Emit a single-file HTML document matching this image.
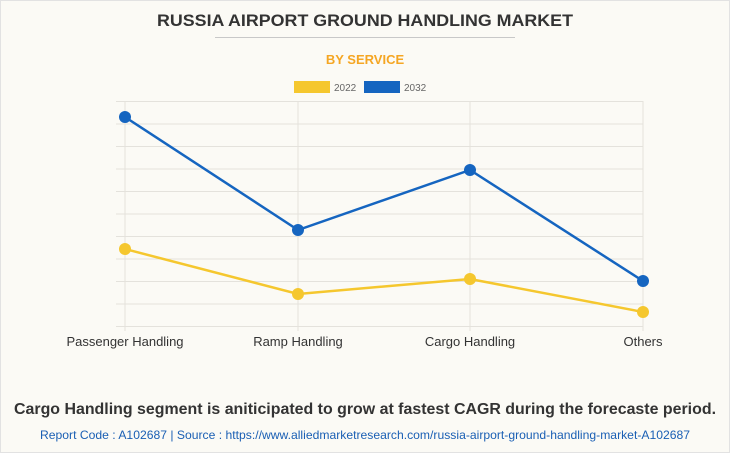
<!DOCTYPE html>
<html><head><meta charset="utf-8"><style>
html,body{margin:0;padding:0;}
body{width:730px;height:453px;background:#fbfaf5;overflow:hidden;font-family:"Liberation Sans",sans-serif;}
.wrap{position:absolute;left:0;top:0;width:728px;height:451px;border:1px solid #e2e2e2;}
</style></head><body>
<div class="wrap"></div>
<svg width="730" height="453" style="position:absolute;left:0;top:0" font-family="Liberation Sans, sans-serif">
<text x="157" y="26" textLength="416" lengthAdjust="spacingAndGlyphs" font-size="17" font-weight="bold" fill="#333">RUSSIA AIRPORT GROUND HANDLING MARKET</text>
<line x1="215" y1="37.5" x2="515" y2="37.5" stroke="#c8c8c8" stroke-width="1"/>
<text x="365" y="64" text-anchor="middle" font-size="13" font-weight="bold" fill="#f5a623">BY SERVICE</text>
<rect x="294" y="81" width="36" height="12" fill="#f5c72e"/>
<text x="334" y="91" font-size="10" fill="#666">2022</text>
<rect x="364" y="81" width="36" height="12" fill="#1565c0"/>
<text x="404" y="91" font-size="10" fill="#666">2032</text>
<g stroke="#e4e2dc" stroke-width="1">
<line x1="116" y1="101.5" x2="643" y2="101.5"/>
<line x1="116" y1="124" x2="643" y2="124"/>
<line x1="116" y1="146.5" x2="643" y2="146.5"/>
<line x1="116" y1="169" x2="643" y2="169"/>
<line x1="116" y1="191.5" x2="643" y2="191.5"/>
<line x1="116" y1="214" x2="643" y2="214"/>
<line x1="116" y1="236.5" x2="643" y2="236.5"/>
<line x1="116" y1="259" x2="643" y2="259"/>
<line x1="116" y1="281.5" x2="643" y2="281.5"/>
<line x1="116" y1="304" x2="643" y2="304"/>
<line x1="116" y1="326.5" x2="643" y2="326.5"/>
<line x1="125" y1="101" x2="125" y2="331"/>
<line x1="298" y1="101" x2="298" y2="331"/>
<line x1="470" y1="101" x2="470" y2="331"/>
<line x1="643" y1="101" x2="643" y2="331"/>
</g>
<polyline points="125,249 298,294 470,279 643,312" fill="none" stroke="#f5c72e" stroke-width="2.5"/>
<polyline points="125,117 298,230 470,170 643,281" fill="none" stroke="#1565c0" stroke-width="2.5"/>
<g fill="#f5c72e"><circle cx="125" cy="249" r="6"/><circle cx="298" cy="294" r="6"/><circle cx="470" cy="279" r="6"/><circle cx="643" cy="312" r="6"/></g>
<g fill="#1565c0"><circle cx="125" cy="117" r="6"/><circle cx="298" cy="230" r="6"/><circle cx="470" cy="170" r="6"/><circle cx="643" cy="281" r="6"/></g>
<g font-size="13" fill="#333" text-anchor="middle">
<text x="125" y="346">Passenger Handling</text>
<text x="298" y="346">Ramp Handling</text>
<text x="470" y="346">Cargo Handling</text>
<text x="643" y="346">Others</text>
</g>
<text x="14" y="414" textLength="702" lengthAdjust="spacingAndGlyphs" font-size="16" font-weight="bold" fill="#333">Cargo Handling segment is aniticipated to grow at fastest CAGR during the forecaste period.</text>
<text x="40" y="439" textLength="650" lengthAdjust="spacingAndGlyphs" font-size="12" fill="#1a5fb4">Report Code : A102687  |  Source : https://www.alliedmarketresearch.com/russia-airport-ground-handling-market-A102687</text>
</svg>
</body></html>
